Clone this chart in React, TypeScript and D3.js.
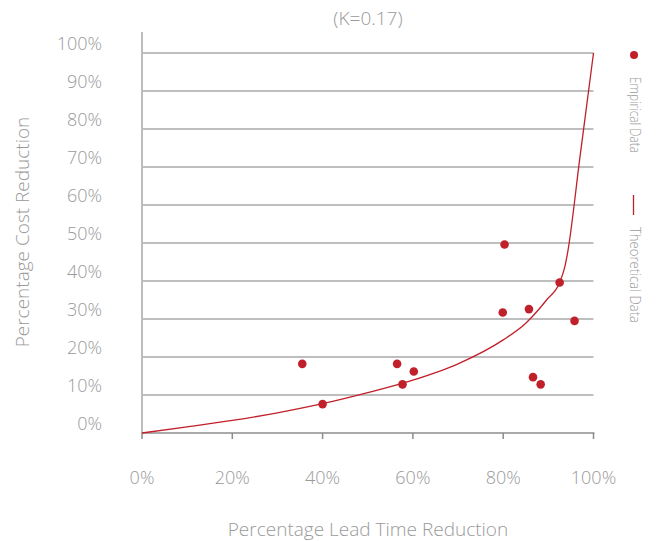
import React from "react";
import * as d3 from "d3";

const empiricalX = [35.5, 40.0, 56.5, 60.2, 57.7, 80.3, 79.9, 85.7, 92.5, 95.8, 86.6, 88.3];
const empiricalY = [18.2, 7.6, 18.2, 16.2, 12.8, 49.6, 31.7, 32.6, 39.6, 29.5, 14.7, 12.8];

const theoryX = [0, 10, 20, 30, 40, 50, 60, 70, 80, 85, 89.6, 92.5, 93.6, 94.2, 97, 100];
const theoryY = [0, 1.6, 3.3, 5.3, 7.7, 10.6, 13.9, 18.2, 24.5, 28.9, 35, 39.6, 43.5, 47, 72.6, 100];

const xTicks = [0, 20, 40, 60, 80, 100];
const yTicks = [0, 10, 20, 30, 40, 50, 60, 70, 80, 90, 100];

const title = "(K=0.17)";
const xTitle = "Percentage Lead Time Reduction";
const yTitle = "Percentage Cost Reduction";
const legend1 = "Empirical Data";
const legend2 = "Theoretical Data";

const W = 657;
const H = 541;
const RED = "#c0202a";
const GRAY = "#9a9a9a";
const FONT = "'Open Sans', 'DejaVu Sans', sans-serif";

export default function App() {
  const x = d3.scaleLinear().domain([0, 100]).range([142, 593.5]);
  const y = d3.scaleLinear().domain([0, 100]).range([433, 53]);
  const line = d3
    .line<number>()
    .x((_, i) => x(theoryX[i]))
    .y((_, i) => y(theoryY[i]))
    .curve(d3.curveMonotoneX);

  return (
    <svg width={W} height={H} style={{ position: "absolute", left: 0, top: 0, background: "#fff" }}>
      <text x={368} y={25} textAnchor="middle" fontFamily={FONT} fontWeight={300} fontSize={19} fill={GRAY}>
        {title}
      </text>
      {yTicks.filter((t) => t > 0).map((t) => (
        <line key={"g" + t} x1={x(0)} x2={x(100)} y1={y(t)} y2={y(t)} stroke="#a8a8a8" strokeWidth={1.5} />
      ))}
      <line x1={x(0)} x2={x(0)} y1={32} y2={y(0)} stroke="#bdbdbd" strokeWidth={2} />
      <line x1={x(0)} x2={x(100) + 1} y1={y(0)} y2={y(0)} stroke="#8c8c8c" strokeWidth={1.5} />
      {xTicks.map((t) => (
        <line key={"t" + t} x1={x(t)} x2={x(t)} y1={y(0)} y2={y(0) + 6} stroke="#8c8c8c" strokeWidth={1.5} />
      ))}
      {yTicks.map((t) => (
        <text key={"yl" + t} x={102} y={y(t) - 3} textAnchor="end" fontFamily={FONT} fontWeight={300} fontSize={18} fill={GRAY}>
          {t}%
        </text>
      ))}
      {xTicks.map((t) => (
        <text key={"xl" + t} x={x(t)} y={484} textAnchor="middle" fontFamily={FONT} fontWeight={300} fontSize={18} fill={GRAY}>
          {t}%
        </text>
      ))}
      <text x={368} y={536} textAnchor="middle" fontFamily={FONT} fontWeight={300} fontSize={19} fill={GRAY}>
        {xTitle}
      </text>
      <text
        transform={`translate(29,232) rotate(-90)`}
        textAnchor="middle"
        fontFamily={FONT}
        fontWeight={300}
        fontSize={19}
        fill={GRAY}
      >
        {yTitle}
      </text>
      <path d={line(theoryX) || ""} fill="none" stroke={RED} strokeWidth={1.3} />
      {empiricalX.map((v, i) => (
        <circle key={"p" + i} cx={x(v)} cy={y(empiricalY[i])} r={4.3} fill={RED} />
      ))}
      <circle cx={634} cy={55} r={4} fill={RED} />
      <text
        transform="translate(630,77) rotate(90)"
        fontFamily={FONT}
        fontWeight={300}
        fontSize={14}
        fill={GRAY}
        textLength={76}
        lengthAdjust="spacingAndGlyphs"
      >
        {legend1}
      </text>
      <line x1={633.5} x2={633.5} y1={195} y2={215} stroke={RED} strokeWidth={1.3} />
      <text
        transform="translate(630,227) rotate(90)"
        fontFamily={FONT}
        fontWeight={300}
        fontSize={14}
        fill={GRAY}
        textLength={96}
        lengthAdjust="spacingAndGlyphs"
      >
        {legend2}
      </text>
    </svg>
  );
}
